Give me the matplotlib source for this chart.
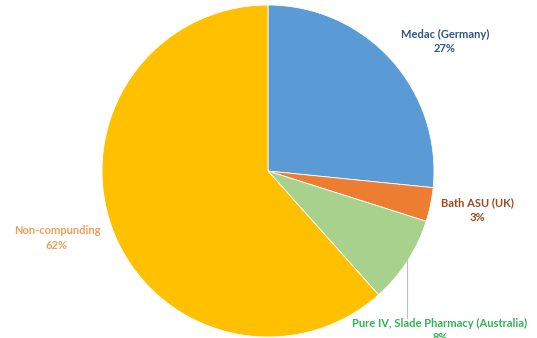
import matplotlib.pyplot as plt

# data
labels = ["Medac (Germany)", "Bath ASU (UK)", "Pure IV, Slade Pharmacy (Australia)", "Non-compunding"]
shares = [26.6, 3.3, 8.5, 61.6]
pct_text = ["27%", "3%", "8%", "62%"]

colors = ["#5B9BD5", "#ED7D31", "#A9D18E", "#FFC000"]
text_colors = ["#2F5583", "#9C4A1C", "#2FB456", "#F29E55"]

W, H = 537, 338
fig = plt.figure(figsize=(W / 100, H / 100), dpi=100)
ax = fig.add_axes([0, 0, 1, 1])

cx, cy, r = 268, H - 171, 166
ax.pie(shares, colors=colors, startangle=90, counterclock=False,
       center=(cx, cy), radius=r, frame=True,
       wedgeprops=dict(edgecolor="white", linewidth=0.6))
ax.set_xlim(0, W)
ax.set_ylim(0, H)
ax.set_aspect("equal")
ax.axis("off")

# leader line for the small green slice
ax.plot([407, 407], [H - 258, H - 318], color="#BFBFBF", lw=0.8)

label_pos = [(445, 34), (477, 203), (440, 323), (57, 231)]
for (x, y), name, pct, c in zip(label_pos, labels, pct_text, text_colors):
    ax.text(x, H - y, name, ha="center", va="center", color=c,
            fontsize=8, fontweight="bold", family=["Lato", "DejaVu Sans"])
    ax.text(x, H - y - 14.5, pct, ha="center", va="center", color=c,
            fontsize=8, fontweight="bold", family=["Lato", "DejaVu Sans"])

fig.savefig("out.png", dpi=100)
